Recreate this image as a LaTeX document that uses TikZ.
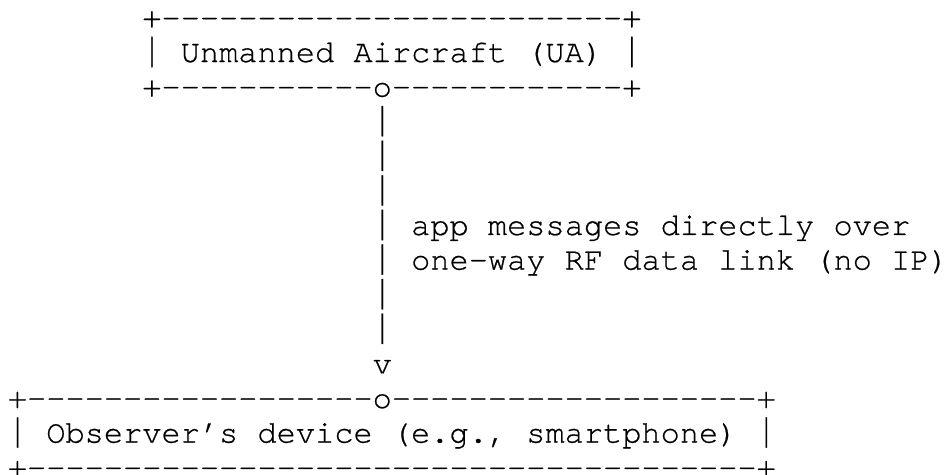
\documentclass[tikz,border=0pt]{standalone}
\usepackage{fontspec}
\usepackage{graphicx}
\newfontfamily\asciifont{TeX Gyre Cursor}[FakeBold=0.6]
% taller bar, as in the original monospace font
\newcommand\vbar{\scalebox{1}[1.3]{|}}

\begin{document}
\begin{tikzpicture}[x=9.6016pt, y=-17.3pt,
  ascii/.style={font=\asciifont\fontsize{16pt}{17.3pt}\selectfont, inner sep=0pt, outer sep=0pt, anchor=base west}]
  \useasboundingbox (0,0) rectangle (49.37,13.728);
  \begin{scope}[shift={(0.411,0.792)}]
  % aircraft box
  \node[ascii] (uatop) at (7,0) {+------------------------+};
  \node[ascii] (uatext) at (7,1) {\vbar{} Unmanned Aircraft (UA) \vbar};
  \node[ascii] (uabot) at (7,2) {+-----------o------------+};
  % broadcast link
  \foreach \r in {3,4,5,8,9}
    \node[ascii] (bar\r) at (19,\r) {\vbar};
  \node[ascii] (msga) at (19,6) {\vbar{} app messages directly over};
  \node[ascii] (msgb) at (19,7) {\vbar{} one-way RF data link (no IP)};
  \node[ascii] (tip) at (19,10) {v};
  % observer box
  \node[ascii] (obstop) at (0,11) {+------------------o-------------------+};
  \node[ascii] (obstext) at (0,12) {\vbar{} Observer’s device (e.g., smartphone) \vbar};
  \node[ascii] (obsbot) at (0,13) {+--------------------------------------+};
  \end{scope}
\end{tikzpicture}
\end{document}
